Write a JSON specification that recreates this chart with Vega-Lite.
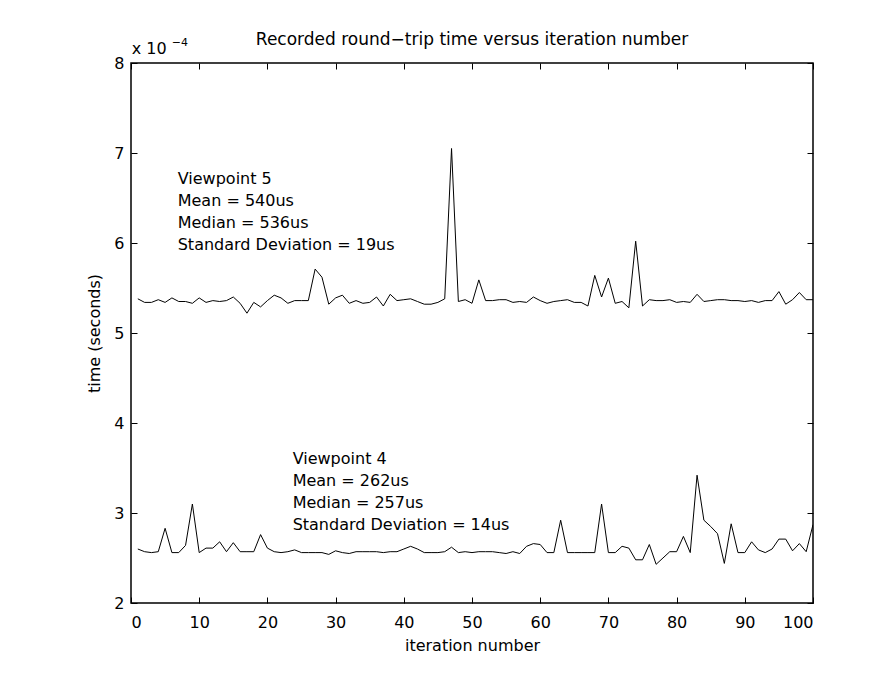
{
  "$schema": "https://vega.github.io/schema/vega-lite/v6.json",
  "autosize": {"type": "none"},
  "padding": {"left": 131, "top": 63, "right": 81, "bottom": 75},
  "width": 682,
  "height": 540,
  "background": "white",
  "config": {
    "view": {"stroke": "black", "strokeWidth": 1.5},
    "font": "DejaVu Sans",
    "axis": {"domain": false, "grid": false, "tickColor": "black", "tickSize": 6, "offset": -6, "tickWidth": 1, "labelFont": "DejaVu Sans", "labelFontSize": 16, "labelColor": "black", "titleFont": "DejaVu Sans", "titleFontSize": 16, "titleFontWeight": "normal", "titleColor": "black"}
  },
  "title": {"text": "Recorded round−trip time versus iteration number", "font": "DejaVu Sans", "fontSize": 17, "fontWeight": "normal", "color": "black", "anchor": "middle", "frame": "group", "baseline": "alphabetic", "offset": 17, "dy": 42},
  "datasets": {
    "rt": [
      {"iteration":1,"v5":5.38,"v4":2.60},{"iteration":2,"v5":5.34,"v4":2.57},{"iteration":3,"v5":5.34,"v4":2.56},{"iteration":4,"v5":5.37,"v4":2.57},{"iteration":5,"v5":5.34,"v4":2.83},
      {"iteration":6,"v5":5.39,"v4":2.56},{"iteration":7,"v5":5.35,"v4":2.56},{"iteration":8,"v5":5.35,"v4":2.64},{"iteration":9,"v5":5.33,"v4":3.10},{"iteration":10,"v5":5.39,"v4":2.56},
      {"iteration":11,"v5":5.34,"v4":2.61},{"iteration":12,"v5":5.36,"v4":2.61},{"iteration":13,"v5":5.35,"v4":2.68},{"iteration":14,"v5":5.36,"v4":2.57},{"iteration":15,"v5":5.40,"v4":2.67},
      {"iteration":16,"v5":5.33,"v4":2.57},{"iteration":17,"v5":5.22,"v4":2.57},{"iteration":18,"v5":5.34,"v4":2.57},{"iteration":19,"v5":5.29,"v4":2.76},{"iteration":20,"v5":5.36,"v4":2.61},
      {"iteration":21,"v5":5.42,"v4":2.57},{"iteration":22,"v5":5.39,"v4":2.56},{"iteration":23,"v5":5.33,"v4":2.57},{"iteration":24,"v5":5.36,"v4":2.59},{"iteration":25,"v5":5.36,"v4":2.56},
      {"iteration":26,"v5":5.36,"v4":2.56},{"iteration":27,"v5":5.71,"v4":2.56},{"iteration":28,"v5":5.62,"v4":2.56},{"iteration":29,"v5":5.32,"v4":2.54},{"iteration":30,"v5":5.39,"v4":2.58},
      {"iteration":31,"v5":5.42,"v4":2.56},{"iteration":32,"v5":5.33,"v4":2.55},{"iteration":33,"v5":5.36,"v4":2.57},{"iteration":34,"v5":5.33,"v4":2.57},{"iteration":35,"v5":5.34,"v4":2.57},
      {"iteration":36,"v5":5.40,"v4":2.57},{"iteration":37,"v5":5.30,"v4":2.56},{"iteration":38,"v5":5.43,"v4":2.57},{"iteration":39,"v5":5.36,"v4":2.57},{"iteration":40,"v5":5.37,"v4":2.60},
      {"iteration":41,"v5":5.38,"v4":2.63},{"iteration":42,"v5":5.35,"v4":2.60},{"iteration":43,"v5":5.32,"v4":2.56},{"iteration":44,"v5":5.32,"v4":2.56},{"iteration":45,"v5":5.34,"v4":2.56},
      {"iteration":46,"v5":5.38,"v4":2.57},{"iteration":47,"v5":7.05,"v4":2.62},{"iteration":48,"v5":5.35,"v4":2.56},{"iteration":49,"v5":5.37,"v4":2.57},{"iteration":50,"v5":5.33,"v4":2.56},
      {"iteration":51,"v5":5.59,"v4":2.57},{"iteration":52,"v5":5.36,"v4":2.57},{"iteration":53,"v5":5.36,"v4":2.57},{"iteration":54,"v5":5.37,"v4":2.56},{"iteration":55,"v5":5.37,"v4":2.55},
      {"iteration":56,"v5":5.34,"v4":2.57},{"iteration":57,"v5":5.35,"v4":2.55},{"iteration":58,"v5":5.34,"v4":2.63},{"iteration":59,"v5":5.40,"v4":2.66},{"iteration":60,"v5":5.36,"v4":2.65},
      {"iteration":61,"v5":5.33,"v4":2.56},{"iteration":62,"v5":5.35,"v4":2.56},{"iteration":63,"v5":5.36,"v4":2.92},{"iteration":64,"v5":5.37,"v4":2.56},{"iteration":65,"v5":5.34,"v4":2.56},
      {"iteration":66,"v5":5.34,"v4":2.56},{"iteration":67,"v5":5.30,"v4":2.56},{"iteration":68,"v5":5.64,"v4":2.56},{"iteration":69,"v5":5.40,"v4":3.10},{"iteration":70,"v5":5.61,"v4":2.56},
      {"iteration":71,"v5":5.33,"v4":2.56},{"iteration":72,"v5":5.35,"v4":2.63},{"iteration":73,"v5":5.28,"v4":2.61},{"iteration":74,"v5":6.02,"v4":2.48},{"iteration":75,"v5":5.30,"v4":2.48},
      {"iteration":76,"v5":5.37,"v4":2.65},{"iteration":77,"v5":5.36,"v4":2.43},{"iteration":78,"v5":5.36,"v4":2.50},{"iteration":79,"v5":5.37,"v4":2.57},{"iteration":80,"v5":5.34,"v4":2.57},
      {"iteration":81,"v5":5.35,"v4":2.74},{"iteration":82,"v5":5.34,"v4":2.56},{"iteration":83,"v5":5.43,"v4":3.42},{"iteration":84,"v5":5.35,"v4":2.92},{"iteration":85,"v5":5.36,"v4":2.85},
      {"iteration":86,"v5":5.37,"v4":2.77},{"iteration":87,"v5":5.37,"v4":2.44},{"iteration":88,"v5":5.36,"v4":2.88},{"iteration":89,"v5":5.36,"v4":2.56},{"iteration":90,"v5":5.35,"v4":2.56},
      {"iteration":91,"v5":5.36,"v4":2.68},{"iteration":92,"v5":5.34,"v4":2.59},{"iteration":93,"v5":5.36,"v4":2.56},{"iteration":94,"v5":5.36,"v4":2.60},{"iteration":95,"v5":5.46,"v4":2.71},
      {"iteration":96,"v5":5.32,"v4":2.71},{"iteration":97,"v5":5.37,"v4":2.58},{"iteration":98,"v5":5.45,"v4":2.66},{"iteration":99,"v5":5.37,"v4":2.57},{"iteration":100,"v5":5.37,"v4":2.87}
    ]
  },
  "data": {"name": "rt"},
  "transform": [
    {"fold": ["v5", "v4"], "as": ["series", "t"]}
  ],
  "resolve": {"axis": {"x": "independent", "y": "independent"}},
  "layer": [
    {
      "mark": {"type": "line", "color": "black", "strokeWidth": 1, "clip": true},
      "encoding": {
        "x": {"field": "iteration", "type": "quantitative", "scale": {"domain": [0, 100], "nice": false, "zero": false},
              "axis": {"orient": "bottom", "title": "iteration number", "values": [0,10,20,30,40,50,60,70,80,90,100], "labelPadding": 11, "titlePadding": 7}},
        "y": {"field": "t", "type": "quantitative", "scale": {"domain": [2, 8], "nice": false, "zero": false},
              "axis": {"orient": "left", "title": "time (seconds)", "values": [2,3,4,5,6,7,8], "labelPadding": 7, "titlePadding": 11}},
        "detail": {"field": "series"}
      }
    },
    {
      "mark": {"type": "line", "strokeOpacity": 0},
      "encoding": {
        "x": {"field": "iteration", "type": "quantitative", "axis": {"orient": "top", "title": null, "labels": false, "values": [0,10,20,30,40,50,60,70,80,90,100]}},
        "y": {"field": "t", "type": "quantitative", "axis": {"orient": "right", "title": null, "labels": false, "values": [2,3,4,5,6,7,8]}},
        "detail": {"field": "series"}
      }
    },
    {
      "data": {"values": [{}]},
      "mark": {"type": "text", "text": ["Viewpoint 5", "Mean = 540us", "Median = 536us", "Standard Deviation = 19us"], "align": "left", "baseline": "alphabetic", "lineHeight": 22, "fontSize": 16, "font": "DejaVu Sans", "color": "black"},
      "encoding": {"x": {"datum": 6.85, "type": "quantitative", "axis": null}, "y": {"datum": 6.656, "type": "quantitative", "axis": null}}
    },
    {
      "data": {"values": [{}]},
      "mark": {"type": "text", "text": ["Viewpoint 4", "Mean = 262us", "Median = 257us", "Standard Deviation = 14us"], "align": "left", "baseline": "alphabetic", "lineHeight": 22, "fontSize": 16, "font": "DejaVu Sans", "color": "black"},
      "encoding": {"x": {"datum": 23.7, "type": "quantitative", "axis": null}, "y": {"datum": 3.544, "type": "quantitative", "axis": null}}
    },
    {
      "data": {"values": [{}]},
      "mark": {"type": "text", "text": "x 10", "align": "left", "baseline": "alphabetic", "fontSize": 16, "font": "DejaVu Sans", "color": "black", "clip": false},
      "encoding": {"x": {"datum": 0.1, "type": "quantitative", "axis": null}, "y": {"datum": 8.1, "type": "quantitative", "axis": null}}
    },
    {
      "data": {"values": [{}]},
      "mark": {"type": "text", "text": "−4", "align": "left", "baseline": "alphabetic", "fontSize": 11, "font": "DejaVu Sans", "color": "black", "clip": false},
      "encoding": {"x": {"datum": 5.97, "type": "quantitative", "axis": null}, "y": {"datum": 8.19, "type": "quantitative", "axis": null}}
    }
  ]
}
